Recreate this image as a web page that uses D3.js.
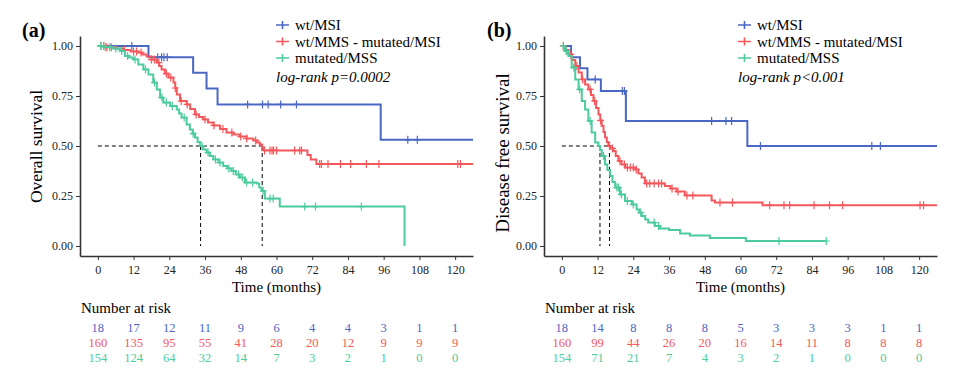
<!DOCTYPE html>
<html>
<head>
<meta charset="utf-8">
<script src="https://cdn.jsdelivr.net/npm/d3@7"></script>
<style>
  body { margin: 0; background: #fff; }
  svg, svg text { font-family: "Liberation Serif", "Times New Roman", serif !important; }
  .axis path, .axis line { stroke: #333; }
  .axis text { font-size: 12px; fill: #222; }
</style>
</head>
<body>
<div id="chart"></div>
<script>
const serif = '"Liberation Serif", "Times New Roman", serif';

// groups and shared axis labels
const groups = ['wt/MSI', 'wt/MMS - mutated/MSI', 'mutated/MSS'];
const colors = ['#4a68c3', '#f5585c', '#4ccb9c'];
const monthTicks = [0, 12, 24, 36, 48, 60, 72, 84, 96, 108, 120];
const survTicks = [0, 0.25, 0.5, 0.75, 1];

// (a) overall survival: step points [month, survival]
const osBlue = [[0,1],[17,0.944],[32,0.866],[36.5,0.787],[40.2,0.708],[95,0.531],[130,0.531]];
const osRed = [[0,1],[3,0.994],[6,0.988],[8.6,0.98],[11,0.973],[13.6,0.967],[15,0.957],[16.4,0.947],
  [18,0.932],[19.8,0.917],[20.6,0.9],[21.4,0.883],[22.5,0.862],[23.7,0.842],[25.4,0.817],[26,0.79],
  [26.5,0.758],[27.6,0.725],[29.8,0.708],[31,0.685],[32.6,0.658],[34,0.645],[35.4,0.633],[37,0.618],
  [38.8,0.603],[41,0.585],[43.2,0.567],[45.5,0.557],[47.7,0.547],[50,0.537],[52.2,0.528],[53.5,0.518],
  [54.4,0.508],[55.2,0.493],[55.7,0.478],[70.4,0.455],[71.5,0.433],[73.4,0.41],[130,0.41]];
const osGreen = [[0,1],[2,0.994],[5.2,0.987],[7.5,0.975],[9.1,0.95],[10.5,0.942],[11.9,0.933],[13.6,0.908],
  [15.3,0.883],[17,0.858],[18.6,0.817],[19.8,0.783],[20.9,0.742],[22,0.717],[24.3,0.7],[26.5,0.683],
  [27.3,0.662],[28.1,0.642],[29.8,0.608],[30.9,0.583],[31.8,0.562],[32.6,0.542],[33.5,0.52],[34.3,0.5],
  [35.4,0.483],[36.5,0.467],[37.6,0.45],[38.8,0.433],[40.5,0.417],[42.1,0.4],[43.5,0.388],[44.9,0.375],
  [46.3,0.358],[47.7,0.342],[49.4,0.317],[53.3,0.312],[54.2,0.293],[55,0.275],[56.1,0.237],[61.1,0.197],
  [103,0]];
const osBlueCens = [11.4,20.1,21.4,22.2,23.3,50.3,55.3,57.2,61.4,66.7,104.1,107.3];
const osRedCens = [1,2,3,4.5,9,12,13,14.5,18,19,20.5,23,24.5,26,28,30,33,36,39,42,45,48,50,53,56,
  57.8,58.5,59,60,66.1,67.8,68.4,74.5,75.1,77.3,81.5,84.9,90.2,94.4,120.9,121.8];
const osGreenCens = [1,2.5,4,6,8,10,12.5,16,19,21.5,23,25,29,32,35,37,39.5,41,44,45.5,47.2,48.5,50,52,
  55.5,57.8,58.9,69.5,73.1,88.5];
const osRisk = [
  [18,17,12,11,9,6,4,4,3,1,1],
  [160,135,95,55,41,28,20,12,9,9,9],
  [154,124,64,32,14,7,3,2,1,0,0]
];
const osMedians = [34.5, 55.2];

// (b) disease free survival
const dfsBlue = [[0,1],[3.1,0.944],[6.1,0.889],[8.6,0.833],[13.1,0.775],[21.5,0.625],[62.3,0.5],[130,0.5]];
const dfsRed = [[0,1],[1,0.98],[2.2,0.958],[3.3,0.93],[4.5,0.9],[5.6,0.867],[6.7,0.833],[7.8,0.808],
  [8.9,0.783],[9.8,0.755],[10.6,0.725],[11.5,0.69],[12.3,0.658],[12.9,0.628],[13.4,0.6],[14,0.57],
  [14.5,0.542],[15.1,0.52],[15.6,0.5],[16.4,0.488],[17.3,0.475],[18.1,0.45],[19,0.425],[20,0.408],
  [21.2,0.392],[24.6,0.383],[25.7,0.362],[26.8,0.342],[27.9,0.313],[34.6,0.3],[36.5,0.287],[38.5,0.272],
  [41.3,0.253],[50.3,0.228],[51.4,0.217],[67.4,0.204],[130,0.204]];
const dfsGreen = [[0,1],[1,0.975],[2.2,0.95],[3.3,0.892],[4.5,0.833],[5.6,0.783],[6.7,0.725],[7.8,0.683],
  [8.9,0.625],[10,0.567],[11.2,0.517],[12.3,0.5],[12.8,0.48],[13.4,0.45],[14.5,0.408],[15.3,0.38],
  [16.2,0.35],[17,0.32],[17.9,0.292],[19.5,0.258],[21.2,0.225],[23.5,0.208],[25.1,0.183],[26,0.167],
  [26.8,0.15],[28,0.133],[29,0.117],[31.3,0.1],[33,0.088],[36,0.08],[39.7,0.063],[43,0.052],
  [49.7,0.04],[61.8,0.025],[88.8,0.025]];
const dfsBlueCens = [11.2,20.3,21,50.3,55.1,57,66.7,104.1,107];
const dfsRedCens = [0.5,1.5,3,5,7,9.5,11,13,16,17,19.5,21,22,23,24,25,28.5,29.5,31,32.5,33.5,37,39,
  42,44,53.1,57.3,69.8,74.6,76.5,84.7,89.9,94.3,120.3,121.5];
const dfsGreenCens = [0.5,1.5,4,6,9.5,14,18.5,19,20,22,24,26.5,31,32.5,72.9,88.8];
const dfsRisk = [
  [18,14,8,8,8,5,3,3,3,1,1],
  [160,99,44,26,20,16,14,11,8,8,8],
  [154,71,21,7,4,3,2,1,0,0,0]
];
const dfsMedians = [12.8, 16];

const svg = d3.select('#chart').append('svg')
  .attr('width', 961)
  .attr('height', 377)
  .attr('font-family', serif);

// value of a step curve at time t
function survAt(curve, t) {
  let s = curve[0][1];
  for (const p of curve) { if (p[0] <= t) s = p[1]; }
  return s;
}

function addText(x, y, txt, size) {
  return svg.append('text')
    .attr('x', x).attr('y', y)
    .attr('font-family', serif)
    .style('font-family', serif)
    .style('font-size', size + 'px')
    .text(txt);
}

function drawPanel(cfg) {
  const x = d3.scaleLinear().domain([-6, 126]).range([cfg.left, cfg.left + 393]);
  const y = d3.scaleLinear().domain([-0.05, 1.05]).range([256, 36]);

  const clipId = 'clip-' + cfg.letter;
  svg.append('clipPath').attr('id', clipId)
    .append('rect')
    .attr('x', x.range()[0]).attr('y', 30)
    .attr('width', 393).attr('height', 228);

  // axes
  const xAxis = svg.append('g')
    .attr('class', 'axis')
    .attr('transform', `translate(0,256)`)
    .call(d3.axisBottom(x).tickValues(monthTicks).tickSize(4).tickPadding(5).tickSizeOuter(0));
  const yAxis = svg.append('g')
    .attr('class', 'axis')
    .attr('transform', `translate(${cfg.left},0)`)
    .call(d3.axisLeft(y).tickValues(survTicks).tickFormat(d3.format('.2f')).tickSize(4).tickPadding(3).tickSizeOuter(0));
  [xAxis, yAxis].forEach(a => {
    a.attr('font-family', serif).attr('font-size', 12);
    a.selectAll('text').style('font-family', serif);
  });
  xAxis.select('.domain').attr('stroke-width', 1.4);
  yAxis.select('.domain').attr('stroke', '#777').attr('stroke-width', 1.6);

  // median dashed guides
  const g = svg.append('g').attr('clip-path', `url(#${clipId})`);
  const medMax = d3.max(cfg.medians);
  g.append('line')
    .attr('x1', x(0)).attr('x2', x(medMax))
    .attr('y1', y(0.5)).attr('y2', y(0.5))
    .attr('stroke', '#000').attr('stroke-dasharray', '4,3');
  cfg.medians.forEach(m => {
    g.append('line')
      .attr('x1', x(m)).attr('x2', x(m))
      .attr('y1', y(0.5)).attr('y2', y(0))
      .attr('stroke', '#000').attr('stroke-dasharray', '4,3');
  });

  const line = d3.line()
    .curve(d3.curveStepAfter)
    .x(d => x(d[0]))
    .y(d => y(d[1]));

  cfg.curves.forEach((curve, i) => {
    g.append('path')
      .attr('d', line(curve))
      .attr('fill', 'none')
      .attr('stroke', colors[i])
      .attr('stroke-width', 2);

    // censor marks
    g.selectAll(null)
      .data(cfg.censors[i])
      .enter().append('path')
      .attr('d', t => {
        const cx = x(t), cy = y(survAt(curve, t));
        return `M${cx - 3.5},${cy}H${cx + 3.5}M${cx},${cy - 4}V${cy + 4}`;
      })
      .attr('stroke', colors[i])
      .attr('stroke-width', 1.2);
  });

  // panel letter
  addText(cfg.letterX, 37, `(${cfg.letter})`, 20).style('font-weight', 'bold');

  // y axis title
  addText(-cfg.yTitleCenter, cfg.yTitleX, cfg.yTitle, cfg.yTitleSize)
    .attr('transform', 'rotate(-90)')
    .style('text-anchor', 'middle');

  // x axis title
  addText(x(60), 292, 'Time (months)', 15).style('text-anchor', 'middle');

  // legend
  groups.forEach((name, i) => {
    const ly = 25 + i * 16.5;
    const lx = cfg.legendX;
    svg.append('path')
      .attr('d', `M${lx},${ly}H${lx + 13}M${lx + 6.5},${ly - 4}V${ly + 4}`)
      .attr('stroke', colors[i])
      .attr('stroke-width', 1.6);
    addText(lx + 19, ly + 5, name, 15);
  });
  addText(cfg.legendX, 82, cfg.pText, 15).style('font-style', 'italic');

  // number at risk table
  addText(x.range()[0] + 1, 313, 'Number at risk', 15);
  cfg.risk.forEach((row, i) => {
    row.forEach((d, j) => {
      addText(x(monthTicks[j]), 332 + i * 15, d, 12.5)
        .style('text-anchor', 'middle')
        .attr('fill', colors[i]);
    });
  });
}

drawPanel({
  letter: 'a', letterX: 22, left: 80,
  curves: [osBlue, osRed, osGreen],
  censors: [osBlueCens, osRedCens, osGreenCens],
  risk: osRisk, medians: osMedians,
  yTitle: 'Overall survival', yTitleCenter: 146.5, yTitleX: 41.5, yTitleSize: 17.5,
  legendX: 276, pText: 'log-rank p=0.0002'
});

drawPanel({
  letter: 'b', letterX: 487, left: 544,
  curves: [dfsBlue, dfsRed, dfsGreen],
  censors: [dfsBlueCens, dfsRedCens, dfsGreenCens],
  risk: dfsRisk, medians: dfsMedians,
  yTitle: 'Disease free survival', yTitleCenter: 153, yTitleX: 508.5, yTitleSize: 19,
  legendX: 738, pText: 'log-rank p<0.001'
});
</script>
</body>
</html>
